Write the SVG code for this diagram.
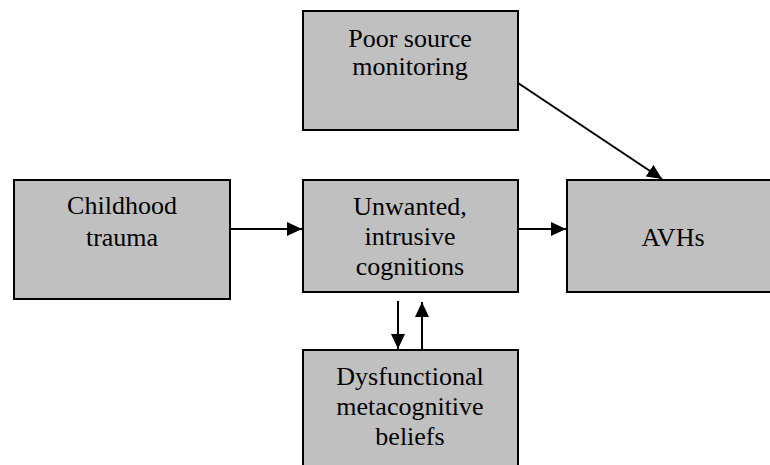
<svg xmlns="http://www.w3.org/2000/svg" width="770" height="465" viewBox="0 0 770 465">
<style>
.box{fill:#c0c0c0;stroke:#000;stroke-width:2}
.t{font-size:26px;fill:#000;text-anchor:middle}
.c{stroke:#000;stroke-width:2;fill:none;marker-end:url(#ah)}
</style>
<defs>
<marker id="ah" markerUnits="userSpaceOnUse" markerWidth="15" markerHeight="14" refX="15" refY="7" orient="auto">
<path d="M0,0 L15,7 L0,14 z" fill="#000"/>
</marker>
</defs>
<rect width="770" height="465" fill="#fff"/>
<g font-family="Liberation Serif, DejaVu Serif, serif">
<g id="poor">
<rect class="box" x="303" y="11" width="215" height="119"/>
<text class="t" x="410" y="47">Poor source</text>
<text class="t" x="410" y="75">monitoring</text>
</g>
<g id="childhood">
<rect class="box" x="14" y="180" width="216" height="119"/>
<text class="t" x="122" y="214">Childhood</text>
<text class="t" x="122" y="246">trauma</text>
</g>
<g id="unwanted">
<rect class="box" x="303" y="180" width="215" height="112"/>
<text class="t" x="410" y="215">Unwanted,</text>
<text class="t" x="410" y="245">intrusive</text>
<text class="t" x="410" y="275">cognitions</text>
</g>
<g id="avhs">
<rect class="box" x="567" y="180" width="215" height="112"/>
<text class="t" x="673" y="246">AVHs</text>
</g>
<g id="dysfunctional">
<rect class="box" x="303" y="350" width="215" height="130"/>
<text class="t" x="410" y="385">Dysfunctional</text>
<text class="t" x="410" y="415">metacognitive</text>
<text class="t" x="410" y="445">beliefs</text>
</g>
</g>
<g id="connectors">
<line class="c" x1="231" y1="229" x2="302" y2="229"/>
<line class="c" x1="519" y1="229" x2="566" y2="229"/>
<line class="c" x1="518" y1="83" x2="662" y2="179"/>
<line class="c" x1="398" y1="301" x2="398" y2="349"/>
<line class="c" x1="422" y1="349" x2="422" y2="302"/>
</g>
</svg>
